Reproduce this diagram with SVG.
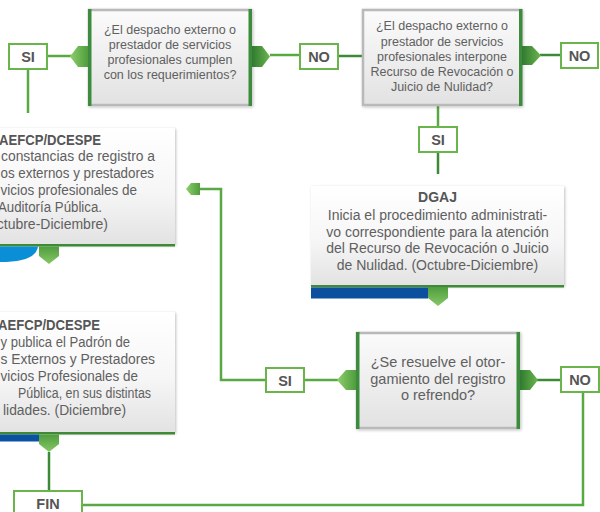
<svg xmlns="http://www.w3.org/2000/svg" width="600" height="512" viewBox="0 0 600 512">
<defs>
<linearGradient id="gdec" x1="0" y1="0" x2="0" y2="1">
<stop offset="0" stop-color="#fbfbfb"/><stop offset="1" stop-color="#e2e2e2"/>
</linearGradient>
<linearGradient id="gproc" x1="0" y1="0" x2="0" y2="1">
<stop offset="0" stop-color="#ffffff"/><stop offset="0.55" stop-color="#f6f6f6"/><stop offset="1" stop-color="#e2e2e2"/>
</linearGradient>
<linearGradient id="garrL" x1="0" y1="0" x2="1" y2="0">
<stop offset="0" stop-color="#8fce6c"/><stop offset="1" stop-color="#4f9d3e"/>
</linearGradient>
<linearGradient id="garrR" x1="0" y1="0" x2="1" y2="0">
<stop offset="0" stop-color="#2f7a30"/><stop offset="1" stop-color="#6cb54e"/>
</linearGradient>
<linearGradient id="garrD" x1="0" y1="0" x2="0" y2="1">
<stop offset="0" stop-color="#4f9d3e"/><stop offset="1" stop-color="#86c866"/>
</linearGradient>
<filter id="sh" x="-5%" y="-5%" width="115%" height="120%">
<feGaussianBlur in="SourceAlpha" stdDeviation="1.5"/>
<feOffset dx="1" dy="1" result="b"/>
<feComponentTransfer><feFuncA type="linear" slope="0.25"/></feComponentTransfer>
<feMerge><feMergeNode/><feMergeNode in="SourceGraphic"/></feMerge>
</filter>
</defs>
<style>
.dec{fill:url(#gdec);stroke:#b9b9b9;stroke-width:2.5}
.gbar{fill:#3d8b3d}
.proc{fill:url(#gproc)}
.bline{fill:#3f8a36}
.lab{fill:#ffffff;stroke:#6ab44c;stroke-width:2}
.lt{font-family:"Liberation Sans",Arial,sans-serif;font-size:14.5px;font-weight:bold;fill:#555555;text-anchor:middle}
.dt{font-family:"Liberation Sans",Arial,sans-serif;font-size:12.5px;fill:#606060;text-anchor:middle}
.pt{font-family:"Liberation Sans",Arial,sans-serif;font-size:14px;fill:#606060}
.ptb{font-family:"Liberation Sans",Arial,sans-serif;font-size:14px;font-weight:bold;fill:#555555}
.c{fill:none;stroke:#58a843;stroke-width:2.5}
.cd{fill:none;stroke:#3a8a36;stroke-width:2.5}
</style>

<g id="connectors">
<path class="c" d="M270,55 H300"/>
<path class="cd" d="M338,56 H362"/>
<path class="c" d="M47,56 H72"/>
<path class="c" d="M28,69 V113"/>
<path class="cd" d="M540,55 H561"/>
<path class="c" d="M438,105 V127"/>
<path class="cd" d="M438,152 V174"/>
<path class="c" d="M304,380 H338"/>
<path class="c" d="M266,380 H221 V189 H199"/>
<path class="cd" d="M537,380 H561"/>
<path class="c" d="M583,392 V505 H82"/>
<path class="cd" d="M49,452 V491"/>
</g>

<g id="dec1">
<rect class="dec" x="89" y="10" width="162" height="95" filter="url(#sh)"/>
<rect class="gbar" x="88" y="9" width="3.5" height="97"/>
<rect class="gbar" x="248.5" y="9" width="3.5" height="97"/>
<polygon points="88,46 78,46 70,56.5 78,67 88,67" fill="url(#garrL)"/>
<polygon points="252,46 262,46 270,56.5 262,67 252,67" fill="url(#garrR)"/>
<text class="dt" x="170" y="34">¿El despacho externo o</text>
<text class="dt" x="170" y="49">prestador de servicios</text>
<text class="dt" x="170" y="64">profesionales cumplen</text>
<text class="dt" x="170" y="79">con los requerimientos?</text>
</g>

<g id="si1">
<rect class="lab" x="9" y="44" width="38" height="25"/>
<text class="lt" x="28" y="61.5">SI</text>
</g>

<g id="no1">
<rect class="lab" x="300" y="44" width="38" height="25"/>
<text class="lt" x="319" y="61.5">NO</text>
</g>

<g id="dec2">
<rect class="dec" x="363" y="10" width="158" height="95" filter="url(#sh)"/>
<rect class="gbar" x="519" y="9" width="3.5" height="97"/>
<polygon points="522,46 532,46 541,55.5 532,65 522,65" fill="url(#garrR)"/>
<text class="dt" x="442" y="30">¿El despacho externo o</text>
<text class="dt" x="442" y="46">prestador de servicios</text>
<text class="dt" x="442" y="61">profesionales interpone</text>
<text class="dt" x="442" y="76">Recurso de Revocación o</text>
<text class="dt" x="442" y="91">Juicio de Nulidad?</text>
</g>

<g id="no2">
<rect class="lab" x="561" y="43" width="37" height="25"/>
<text class="lt" x="579.5" y="60.5">NO</text>
</g>

<g id="si2">
<rect class="lab" x="419" y="127" width="38" height="25"/>
<text class="lt" x="438" y="144.5">SI</text>
</g>

<g id="dgaj">
<rect class="proc" x="311" y="186" width="253" height="100" filter="url(#sh)"/>
<rect class="bline" x="311" y="285" width="253" height="2.5"/>
<rect x="311" y="287.5" width="117" height="11" fill="#0b4f9f"/>
<polygon points="428,287 448,287 448,298 438,306 428,298" fill="url(#garrD)"/>
<text class="ptb" x="437.5" y="202" text-anchor="middle">DGAJ</text>
<text class="pt" x="437.5" y="219.5" text-anchor="middle">Inicia el procedimiento administrati-</text>
<text class="pt" x="437.5" y="236.5" text-anchor="middle">vo correspondiente para la atención</text>
<text class="pt" x="437.5" y="253" text-anchor="middle">del Recurso de Revocación o Juicio</text>
<text class="pt" x="437.5" y="270" text-anchor="middle">de Nulidad. (Octubre-Diciembre)</text>
</g>

<g id="proc1">
<rect class="proc" x="-80" y="128" width="255" height="117" filter="url(#sh)"/>
<rect class="bline" x="-80" y="244" width="255" height="2.5"/>
<path d="M-2,246.5 H38 Q36,262 0,262 H-2 Z" fill="#0a8fd6"/>
<polygon points="39,246.5 59,246.5 59,256 49,264 39,256" fill="url(#garrD)"/>
<text class="ptb" x="-1" y="145" textLength="102" lengthAdjust="spacingAndGlyphs">AEFCP/DCESPE</text>
<text class="pt" x="1" y="161" textLength="154" lengthAdjust="spacingAndGlyphs">constancias de registro a</text>
<text class="pt" x="0.5" y="178" textLength="153.5" lengthAdjust="spacingAndGlyphs">os externos y prestadores</text>
<text class="pt" x="0.5" y="195" textLength="136.5" lengthAdjust="spacingAndGlyphs">vicios profesionales de</text>
<text class="pt" x="-2" y="212" textLength="104" lengthAdjust="spacingAndGlyphs">Auditoría Pública.</text>
<text class="pt" x="108" y="228.5" text-anchor="end">Octubre-Diciembre)</text>
</g>

<g id="arrowUp">
<polygon points="200,183 191,183 186,189 191,195 200,195" fill="url(#garrL)"/>
</g>

<g id="dec3">
<rect class="dec" x="357" y="333" width="162" height="95" filter="url(#sh)"/>
<rect class="gbar" x="356" y="332" width="3.5" height="97"/>
<rect class="gbar" x="516.5" y="332" width="3.5" height="97"/>
<polygon points="356,370 346,370 337,380 346,390 356,390" fill="url(#garrL)"/>
<polygon points="520,370 530,370 538,380 530,390 520,390" fill="url(#garrR)"/>
<text class="dt" x="438" y="367" style="font-size:14.5px">¿Se resuelve el otor-</text>
<text class="dt" x="438" y="383.5" style="font-size:14.5px">gamiento del registro</text>
<text class="dt" x="438" y="400" style="font-size:14.5px">o refrendo?</text>
</g>

<g id="si3">
<rect class="lab" x="266" y="368" width="38" height="24"/>
<text class="lt" x="285" y="385.5">SI</text>
</g>

<g id="no3">
<rect class="lab" x="561" y="367" width="38" height="25"/>
<text class="lt" x="580" y="384.5">NO</text>
</g>

<g id="proc2">
<rect class="proc" x="-80" y="312" width="255" height="121" filter="url(#sh)"/>
<rect class="bline" x="-80" y="432" width="255" height="2.5"/>
<rect x="-2" y="434.5" width="41" height="7" fill="#0b52a3"/>
<polygon points="39,434.5 59,434.5 59,444 49,452 39,444" fill="url(#garrD)"/>
<text class="ptb" x="-2" y="330" textLength="102" lengthAdjust="spacingAndGlyphs">AEFCP/DCESPE</text>
<text class="pt" x="0.5" y="347" textLength="129.5" lengthAdjust="spacingAndGlyphs">y publica el Padrón de</text>
<text class="pt" x="0.5" y="364" textLength="154.5" lengthAdjust="spacingAndGlyphs">s Externos y Prestadores</text>
<text class="pt" x="0.5" y="381" textLength="137.5" lengthAdjust="spacingAndGlyphs">vicios Profesionales de</text>
<text class="pt" x="18" y="398" textLength="133" lengthAdjust="spacingAndGlyphs">Pública, en sus distintas</text>
<text class="pt" x="3" y="415" textLength="123" lengthAdjust="spacingAndGlyphs">lidades. (Diciembre)</text>
</g>

<g id="fin">
<rect class="lab" x="14" y="491" width="68" height="30"/>
<text class="lt" x="48" y="509">FIN</text>
</g>
</svg>
